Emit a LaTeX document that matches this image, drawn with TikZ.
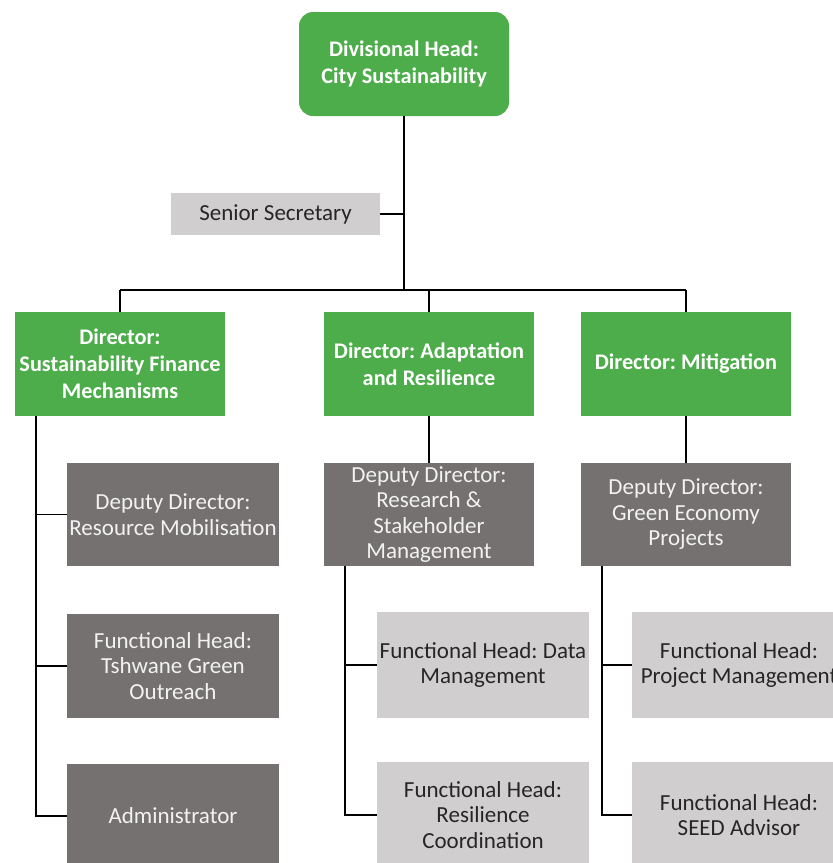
\documentclass[tikz,border=0pt]{standalone}
\usepackage{fontspec}
\setmainfont{Carlito}
\frenchspacing
\definecolor{hgreen}{HTML}{4CAD4A}
\definecolor{dgrey}{HTML}{767171}
\definecolor{lgrey}{HTML}{D0CECE}
\definecolor{dtext}{HTML}{262626}
\definecolor{ltext}{HTML}{F2F2F2}
\begin{document}
\begin{tikzpicture}[x=1pt,y=-1pt,
  greenbox/.style={fill=hgreen,draw=none,text=white,align=center,inner sep=0pt,
    minimum width=210pt,minimum height=104pt,
    font=\fontsize{22.3}{27}\selectfont\bfseries\frenchspacing},
  darkbox/.style={fill=dgrey,draw=none,text=ltext,align=center,inner sep=0pt,
    minimum width=212pt,minimum height=103pt,
    font=\fontsize{23}{25.5}\selectfont\frenchspacing},
  lightbox/.style={fill=lgrey,draw=none,text=dtext,align=center,inner sep=0pt,
    minimum width=212pt,minimum height=104pt,
    font=\fontsize{23}{25.5}\selectfont\frenchspacing},
  conn/.style={draw=black,line width=1.5pt},
  trunk/.style={draw=black,line width=2.5pt}]
\clip (0,0) rectangle (833,863);
\fill[white] (0,0) rectangle (833,863);
% top
\node[greenbox,rounded corners=14pt] (top) at (404,64) {Divisional Head:\\City Sustainability};
\node[lightbox,minimum width=209pt,minimum height=42pt] (sec) at (275.5,214) {Senior Secretary};
% directors
\node[greenbox] (d1) at (120,364) {Director:\\Sustainability Finance\\Mechanisms};
\node[greenbox] (d2) at (429,364) {Director: Adaptation\\and Resilience};
\node[greenbox] (d3) at (686,364) {Director: Mitigation};
% column 1
\node[darkbox] (dep1) at (173,514.5) {Deputy Director:\\Resource Mobilisation};
\node[darkbox,minimum height=104pt] (fh1) at (173,666) {Functional Head:\\Tshwane Green\\Outreach};
\node[darkbox,minimum height=104pt] (adm) at (173,816) {Administrator};
% column 2
\node[darkbox,minimum width=210pt] (dep2) at (429,514.5) {Deputy Director:\\Research \&\\Stakeholder\\Management};
\node[lightbox,minimum height=106pt] (fh2a) at (483,665) {Functional Head: Data\\Management};
\node[lightbox,minimum height=106pt] (fh2b) at (483,815) {Functional Head:\\Resilience\\Coordination};
% column 3
\node[darkbox,minimum width=210pt] (dep3) at (686,514.5) {Deputy Director:\\Green Economy\\Projects};
\node[lightbox,minimum width=214pt,minimum height=106pt] (fh3a) at (739,665) {Functional Head:\\Project Management};
\node[lightbox,minimum width=214pt,minimum height=106pt] (fh3b) at (739,815) {Functional Head:\\SEED Advisor};
% bus coordinates
\coordinate (bus) at (404,290);
\coordinate (secj) at (404,214);
\coordinate (b1) at (120,290);
\coordinate (b3) at (686,290);
\coordinate (v1) at (36,416);
\coordinate (v2) at (345,566);
\coordinate (v3) at (602,566);
% connectors
\draw[trunk] (top.south) -- (bus);
\draw[conn] (sec.east) -- (secj);
\draw[conn] (b1) -- (b3);
\draw[conn] (b1) -- (d1.north);
\draw[conn] (d2.north |- bus) -- (d2.north);
\draw[conn] (b3) -- (d3.north);
\draw[conn] (v1) |- (dep1.west);
\draw[conn] (v1) |- (fh1.west);
\draw[conn] (v1) |- (adm.west);
\draw[conn] (d2.south) -- (dep2.north);
\draw[conn] (v2) |- (fh2a.west);
\draw[conn] (v2) |- (fh2b.west);
\draw[conn] (d3.south) -- (dep3.north);
\draw[conn] (v3) |- (fh3a.west);
\draw[conn] (v3) |- (fh3b.west);
\end{tikzpicture}
\end{document}
